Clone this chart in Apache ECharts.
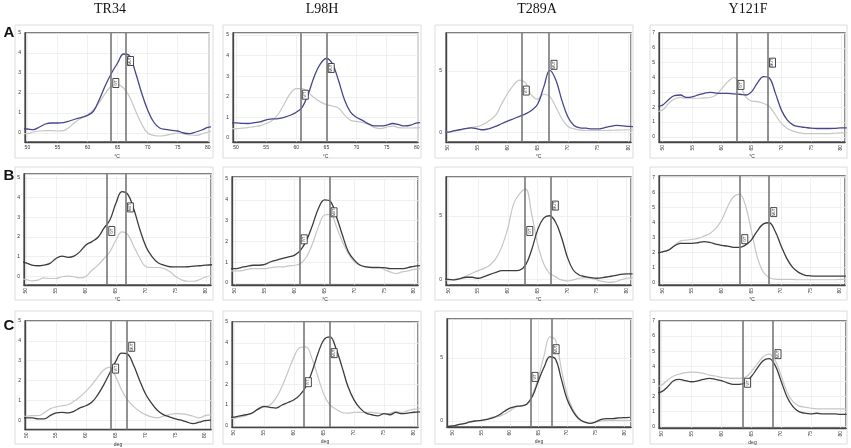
<!DOCTYPE html>
<html>
<head>
<meta charset="utf-8">
<script src="https://cdn.jsdelivr.net/npm/echarts@6/dist/echarts.min.js"></script>
<style>
  html, body { margin: 0; padding: 0; background: #fff; }
  #chart { width: 851px; height: 448px; }
</style>
</head>
<body>
<div id="chart"></div>
<script>
// melt temperatures (°C), one point per degree
var temps = [49, 50, 51, 52, 53, 54, 55, 56, 57, 58, 59, 60, 61, 62, 63, 64, 65,
    66, 67, 68, 69, 70, 71, 72, 73, 74, 75, 76, 77, 78, 79, 80, 81];

var columns = ['TR34', 'L98H', 'T289A', 'Y121F'];
var rowLetters = ['A', 'B', 'C'];
var rowAxisNames = ['°C', '°C', 'deg'];
var boxNames = ['WT', 'MUT'];
var xTickStep = 5;
var yTickSteps = [1, 1, 5, 1];

// row A
var a1Dark = [0.22, 0.2, 0.17, 0.3, 0.45, 0.5, 0.5, 0.52, 0.6, 0.7, 0.78, 0.88, 1.1, 1.7, 2.4, 3.0, 3.5, 3.95, 3.85, 3.0, 2.0, 1.15, 0.55, 0.25, 0.18, 0.13, 0.1, 0.0, -0.03, 0.05, 0.15, 0.28, 0.32];
var a1Light = [-0.03, -0.03, 0.05, 0.1, 0.12, 0.12, 0.1, 0.12, 0.3, 0.55, 0.75, 0.9, 1.15, 1.55, 2.0, 2.35, 2.42, 2.25, 1.8, 1.1, 0.45, 0.0, -0.12, -0.15, -0.12, -0.05, 0.0, -0.05, -0.1, -0.12, -0.05, 0.05, 0.1];
var a2Dark = [0.73, 0.73, 0.71, 0.7, 0.74, 0.78, 0.88, 0.92, 0.94, 1.0, 1.1, 1.25, 1.5, 2.15, 3.0, 3.6, 3.86, 3.6, 2.8, 1.85, 1.25, 1.0, 0.85, 0.68, 0.58, 0.58, 0.62, 0.7, 0.64, 0.58, 0.62, 0.73, 0.75];
var a2Light = [0.45, 0.45, 0.47, 0.5, 0.55, 0.6, 0.7, 0.85, 1.15, 1.65, 2.15, 2.4, 2.4, 2.2, 1.95, 1.75, 1.62, 1.55, 1.45, 1.12, 0.86, 0.8, 0.75, 0.65, 0.5, 0.45, 0.52, 0.57, 0.5, 0.48, 0.48, 0.49, 0.5];
var a3Dark = [0, 0, 0.1, 0.2, 0.3, 0.36, 0.27, 0.2, 0.3, 0.47, 0.69, 0.9, 1.1, 1.3, 1.5, 1.79, 2.3, 3.7, 5.05, 4.26, 2.6, 1.24, 0.55, 0.36, 0.33, 0.27, 0.27, 0.36, 0.47, 0.55, 0.52, 0.47, 0.45];
var a3Light = [0, 0, 0.07, 0.15, 0.28, 0.4, 0.45, 0.65, 0.96, 1.37, 2.3, 3.16, 3.85, 4.26, 4.0, 3.0, 2.7, 3.1, 2.9, 2.06, 1.1, 0.47, 0.27, 0.18, 0.14, 0.14, 0.14, 0.14, 0.15, 0.17, 0.18, 0.2, 0.2];
var a4Dark = [2.05, 2.14, 2.5, 2.78, 2.82, 2.66, 2.7, 2.82, 2.93, 3.0, 2.95, 2.93, 2.93, 2.89, 2.87, 2.82, 3.05, 3.66, 4.06, 3.95, 2.93, 1.8, 1.13, 0.79, 0.68, 0.63, 0.58, 0.56, 0.56, 0.56, 0.57, 0.6, 0.6];
var a4Light = [1.7, 1.8, 2.25, 2.55, 2.66, 2.6, 2.6, 2.6, 2.62, 2.65, 2.82, 3.27, 3.72, 4.0, 3.5, 2.7, 2.4, 2.37, 2.25, 2.03, 1.47, 0.9, 0.56, 0.38, 0.27, 0.22, 0.22, 0.22, 0.22, 0.22, 0.24, 0.27, 0.27];

// row B
var b1Dark = [0.75, 0.68, 0.56, 0.53, 0.56, 0.65, 0.9, 1.02, 0.96, 1.02, 1.25, 1.59, 1.76, 1.98, 2.44, 2.87, 3.72, 4.3, 4.15, 3.38, 2.35, 1.5, 0.99, 0.68, 0.56, 0.48, 0.47, 0.47, 0.48, 0.51, 0.53, 0.56, 0.58];
var b1Light = [-0.15, -0.17, -0.24, -0.2, -0.09, -0.12, -0.12, -0.03, 0, -0.03, -0.09, 0, 0.3, 0.56, 0.9, 1.25, 1.84, 2.25, 2.1, 1.5, 0.9, 0.48, 0.44, 0.44, 0.39, 0.22, -0.03, -0.2, -0.26, -0.26, -0.17, -0.03, 0.02];
var b2Dark = [0.69, 0.69, 0.74, 0.8, 0.85, 0.85, 0.89, 1.02, 1.1, 1.18, 1.26, 1.34, 1.58, 2.06, 2.79, 3.6, 4.0, 3.92, 3.19, 2.31, 1.5, 1.1, 0.85, 0.77, 0.74, 0.74, 0.74, 0.69, 0.69, 0.69, 0.74, 0.8, 0.83];
var b2Light = [0.58, 0.58, 0.58, 0.65, 0.69, 0.69, 0.69, 0.74, 0.77, 0.77, 0.82, 0.85, 0.94, 1.26, 1.9, 2.71, 3.27, 3.3, 2.71, 1.98, 1.42, 1.02, 0.85, 0.77, 0.77, 0.77, 0.65, 0.53, 0.45, 0.53, 0.58, 0.65, 0.68];
var b3Dark = [0.02, 0, -0.05, 0.05, 0.16, 0.16, 0.08, 0.21, 0.39, 0.55, 0.68, 0.68, 0.68, 0.73, 1.13, 2.3, 3.87, 4.79, 5.0, 4.53, 3.35, 1.78, 0.73, 0.34, 0.21, 0.13, 0.08, 0.13, 0.21, 0.29, 0.39, 0.42, 0.42];
var b3Light = [-0.05, -0.05, 0, 0.08, 0.26, 0.47, 0.68, 0.86, 1.13, 1.65, 2.57, 4.0, 5.97, 6.75, 7.1, 5.18, 2.83, 1.26, 0.47, 0.21, -0.05, -0.13, -0.05, 0.08, 0.13, 0.08, -0.05, -0.18, -0.24, -0.2, -0.05, 0.08, 0.12];
var b4Dark = [2.0, 2.06, 2.17, 2.44, 2.62, 2.62, 2.62, 2.66, 2.73, 2.68, 2.57, 2.48, 2.44, 2.35, 2.35, 2.5, 2.84, 3.44, 3.9, 3.99, 3.46, 2.5, 1.62, 1.02, 0.69, 0.51, 0.46, 0.44, 0.44, 0.44, 0.44, 0.44, 0.44];
var b4Light = [2.0, 2.06, 2.17, 2.5, 2.77, 2.84, 2.88, 2.95, 3.1, 3.28, 3.61, 4.17, 5.06, 5.72, 5.9, 5.17, 3.5, 1.73, 0.73, 0.35, 0.24, 0.22, 0.22, 0.22, 0.2, 0.2, 0.2, 0.2, 0.2, 0.2, 0.2, 0.22, 0.22];

// row C
var c1Dark = [0.12, 0.12, 0.12, 0.07, 0.07, 0.23, 0.37, 0.4, 0.37, 0.45, 0.62, 0.73, 0.9, 1.28, 1.78, 2.37, 2.95, 3.38, 3.33, 2.78, 2.03, 1.33, 0.87, 0.5, 0.28, 0.17, 0.07, 0, -0.1, -0.17, -0.1, -0.02, 0];
var c1Light = [0.2, 0.2, 0.23, 0.23, 0.37, 0.57, 0.67, 0.73, 0.78, 0.95, 1.17, 1.45, 1.78, 2.17, 2.53, 2.68, 2.2, 1.53, 1.03, 0.7, 0.45, 0.28, 0.17, 0.12, 0.2, 0.28, 0.33, 0.32, 0.28, 0.2, 0.12, 0.23, 0.28];
var c2Dark = [0.4, 0.42, 0.48, 0.53, 0.61, 0.8, 0.93, 0.89, 0.85, 1.0, 1.12, 1.25, 1.49, 1.89, 2.6, 3.48, 4.15, 4.28, 3.72, 2.84, 1.89, 1.25, 0.85, 0.61, 0.53, 0.48, 0.58, 0.53, 0.64, 0.58, 0.61, 0.65, 0.67];
var c2Light = [0.35, 0.37, 0.42, 0.48, 0.61, 0.8, 0.89, 1.0, 1.33, 1.89, 2.6, 3.32, 3.77, 3.8, 3.24, 2.36, 1.49, 1.0, 0.8, 0.64, 0.61, 0.64, 0.64, 0.64, 0.64, 0.61, 0.58, 0.6, 0.69, 0.64, 0.73, 0.8, 0.82];
var c3Dark = [-0.45, -0.4, -0.29, -0.21, -0.08, 0, 0.05, 0.13, 0.24, 0.45, 0.75, 1.02, 1.15, 1.2, 1.34, 2.0, 3.2, 4.28, 5.1, 4.9, 3.34, 1.74, 0.8, 0.19, -0.08, -0.19, -0.08, 0.13, 0.19, 0.19, 0.24, 0.27, 0.29];
var c3Light = [-0.45, -0.4, -0.29, -0.21, -0.08, 0, 0.05, 0.15, 0.3, 0.35, 0.53, 0.8, 1.1, 1.2, 1.34, 2.14, 3.48, 5.21, 6.68, 6.42, 4.14, 2.14, 0.94, 0.27, -0.08, -0.19, -0.08, 0, 0.05, 0.05, 0.05, 0.05, 0.05];
var c4Dark = [2.2, 2.31, 2.64, 3.04, 3.13, 3.04, 2.97, 3.02, 3.13, 3.19, 3.13, 3.04, 2.9, 2.8, 2.8, 2.9, 3.3, 3.85, 4.36, 4.5, 4.07, 3.04, 1.98, 1.32, 0.99, 0.88, 0.84, 0.88, 0.84, 0.84, 0.84, 0.81, 0.8];
var c4Light = [2.65, 2.75, 3.08, 3.35, 3.48, 3.57, 3.61, 3.59, 3.52, 3.41, 3.35, 3.26, 3.22, 3.19, 3.19, 3.26, 3.63, 4.14, 4.63, 4.8, 4.4, 3.41, 2.31, 1.65, 1.37, 1.28, 1.21, 1.17, 1.17, 1.17, 1.17, 1.17, 1.17];

// cursor lines (WT, MUT) and the height of their label boxes
var cursorTemps = [
    [63.9, 66.35], [60.7, 65.0], [62.3, 66.9], [62.4, 67.7],
    [63.5, 66.6], [60.8, 65.8], [62.9, 67.2], [63.1, 68.0],
    [64.2, 66.9], [61.6, 65.9], [63.6, 67.3], [63.6, 68.7]
];
var boxHeights = [
    [2.5, 3.6], [2.1, 3.4], [3.4, 5.5], [3.5, 5.0],
    [2.3, 3.5], [2.1, 3.4], [3.8, 5.8], [2.9, 4.7],
    [2.6, 3.7], [2.1, 3.5], [3.5, 5.7], [2.9, 4.8]
];

var darkCurves = [a1Dark, a2Dark, a3Dark, a4Dark, b1Dark, b2Dark, b3Dark, b4Dark, c1Dark, c2Dark, c3Dark, c4Dark];
var lightCurves = [a1Light, a2Light, a3Light, a4Light, b1Light, b2Light, b3Light, b4Light, c1Light, c2Light, c3Light, c4Light];

// layout: grid box [left, top, width, height], axis ranges
var layout = [
    {box: [25, 33, 184, 109], x: [49.6, 80.2], y: [-0.45, 5]},
    {box: [233, 33, 185, 109], x: [49.5, 80.2], y: [-0.2, 5.1]},
    {box: [446, 33, 185, 109], x: [49.8, 80.45], y: [-0.8, 8.1]},
    {box: [659, 33, 186, 109], x: [49.4, 80.7], y: [-0.35, 7]},
    {box: [24, 174, 187, 111], x: [49.67, 80.83], y: [-0.45, 5.2]},
    {box: [232, 177, 186, 108], x: [49.5, 80.67], y: [-0.1, 5.1]},
    {box: [446, 177, 185, 108], x: [49.6, 80.73], y: [-0.45, 8.05]},
    {box: [659, 176, 186, 109], x: [49.4, 80.85], y: [-0.15, 7.1]},
    {box: [25, 321, 186, 109], x: [49.8, 81.0], y: [-0.47, 5]},
    {box: [232, 322, 186, 105], x: [49.67, 80.67], y: [-0.06, 5]},
    {box: [447, 319, 184, 108], x: [49, 81.2], y: [-0.48, 8.1]},
    {box: [659, 321, 187, 107], x: [49.55, 80.9], y: [-0.1, 7]}
];
var frameX = [[15, 213], [223, 421], [435, 633], [650, 847]];
var frameY = [[25, 158], [167, 300], [311, 444]];

// label only the round ticks, not the axis ends
function stepLabel(step) {
    return function (v) {
        var q = v / step;
        return Math.abs(q - Math.round(q)) < 1e-6 ? String(Math.round(v)) : '';
    };
}

function pairs(values) {
    var out = [];
    for (var i = 0; i < temps.length; ++i) {
        out.push([temps[i], values[i]]);
    }
    return out;
}

function initChart() {
    var chart = echarts.init(document.getElementById('chart'), null, {renderer: 'canvas'});
    var grids = [], xAxes = [], yAxes = [], series = [], graphics = [];

    // light frames round each panel
    for (var r = 0; r < 3; ++r) {
        for (var c = 0; c < 4; ++c) {
            graphics.push({
                type: 'rect', z: -10, silent: true,
                shape: {x: frameX[c][0], y: frameY[r][0], width: frameX[c][1] - frameX[c][0], height: frameY[r][1] - frameY[r][0]},
                style: {fill: '#fff', stroke: '#dcdcdc', lineWidth: 1}
            });
        }
    }

    for (var p = 0; p < 12; ++p) {
        var row = Math.floor(p / 4), col = p % 4;
        var L = layout[p];
        grids.push({
            left: L.box[0], top: L.box[1], width: L.box[2], height: L.box[3],
            show: true, backgroundColor: '#fff', borderColor: '#555', borderWidth: 1.3
        });
        xAxes.push({
            gridIndex: p, type: 'value', min: L.x[0], max: L.x[1], splitNumber: 6,
            name: rowAxisNames[row], nameLocation: 'middle', nameGap: 12,
            nameTextStyle: {fontSize: 5, color: '#333'},
            axisLine: {show: true, onZero: false, lineStyle: {color: '#444', width: 1.3}},
            axisTick: {show: false},
            axisLabel: {fontSize: 5, color: '#333', margin: 3, rotate: (row === 0 && col < 2) ? 0 : 90, formatter: stepLabel(xTickStep)},
            splitLine: {show: true, lineStyle: {color: '#ececec', width: 0.8}}
        });
        yAxes.push({
            gridIndex: p, type: 'value', min: L.y[0], max: L.y[1], splitNumber: col === 2 ? 2 : 6,
            axisLine: {show: true, onZero: false, lineStyle: {color: '#444', width: 1.3}},
            axisTick: {show: false},
            axisLabel: {fontSize: 5, color: '#333', margin: 4, formatter: stepLabel(yTickSteps[col])},
            splitLine: {show: true, lineStyle: {color: '#ececec', width: 0.8}}
        });

        series.push({
            type: 'line', xAxisIndex: p, yAxisIndex: p, data: pairs(lightCurves[p]),
            smooth: 0.4, showSymbol: false, lineStyle: {color: '#c6c6c6', width: 1.2}, z: 2
        });
        series.push({
            type: 'line', xAxisIndex: p, yAxisIndex: p, data: pairs(darkCurves[p]),
            smooth: 0.4, showSymbol: false,
            lineStyle: {color: row === 0 ? '#46468c' : '#3c3c3c', width: 1.3}, z: 3,
            markLine: {
                silent: true, symbol: ['none', 'none'], animation: false,
                label: {show: false},
                lineStyle: {color: '#777', width: 1.6, type: 'solid'},
                data: [{xAxis: cursorTemps[p][0]}, {xAxis: cursorTemps[p][1]}]
            }
        });
        // WT / MUT boxes next to each cursor
        var boxes = [];
        for (var k = 0; k < 2; ++k) {
            boxes.push({name: boxNames[k], value: [cursorTemps[p][k] + 0.8, boxHeights[p][k]]});
        }
        series.push({
            type: 'scatter', xAxisIndex: p, yAxisIndex: p, data: boxes, z: 5,
            symbol: 'rect', symbolSize: [6, 9],
            itemStyle: {color: '#fff', borderColor: '#222', borderWidth: 0.8, opacity: 1},
            label: {show: true, position: 'inside', rotate: 90, fontSize: 3.5, color: '#111', formatter: '{b}'}
        });
    }

    // column titles and row letters
    var titleX = [110, 322, 537, 748];
    for (var i = 0; i < columns.length; ++i) {
        graphics.push({
            type: 'text', x: titleX[i], y: 9,
            style: {text: columns[i], fontFamily: 'Liberation Serif', fontSize: 14, fill: '#111', align: 'center', verticalAlign: 'middle'}
        });
    }
    var letterY = [33, 176, 326];
    for (var j = 0; j < rowLetters.length; ++j) {
        graphics.push({
            type: 'text', x: 9, y: letterY[j],
            style: {text: rowLetters[j], fontFamily: 'Liberation Sans', fontWeight: 'bold', fontSize: 15, fill: '#111', align: 'center', verticalAlign: 'middle'}
        });
    }

    chart.setOption({
        animation: false,
        backgroundColor: '#fff',
        grid: grids,
        xAxis: xAxes,
        yAxis: yAxes,
        series: series,
        graphic: graphics
    });
}

initChart();
</script>
</body>
</html>
